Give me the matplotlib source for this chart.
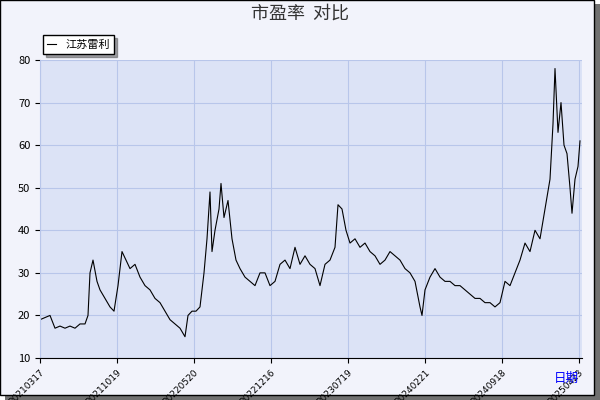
import matplotlib.pyplot as plt
from matplotlib.patches import Rectangle

plt.rcParams['font.family'] = ['Noto Sans CJK SC', 'DejaVu Sans']

# sample position (trading-day-ish offset) and PE value
pos = [40, 45, 50, 55, 60, 65, 70, 75, 80, 85, 88, 90, 93, 97, 100, 105, 110, 114, 118, 122,
       126, 130, 135, 140, 145, 150, 155, 160, 165, 170, 175, 180, 185, 188, 192, 196, 200,
       204, 207, 210, 212, 215, 219, 221, 224, 228, 232, 236, 240, 245, 250, 255, 260, 265,
       270, 275, 280, 285, 290, 295, 300, 305, 310, 315, 320, 325, 330, 335, 338, 342, 346,
       350, 355, 360, 365, 370, 375, 380, 385, 390, 395, 400, 405, 410, 415, 420, 422, 425,
       430, 435, 440, 445, 450, 455, 460, 465, 470, 475, 480, 485, 490, 495, 500, 505, 510,
       515, 520, 525, 530, 535, 540, 545, 550, 553, 555, 558, 561, 564, 567, 570, 572, 575,
       578, 580]
pe = [19, 19.5, 20, 17, 17.5, 17, 17.5, 17, 18, 18, 20, 30, 33, 28, 26, 24, 22, 21, 27, 35,
      33, 31, 32, 29, 27, 26, 24, 23, 21, 19, 18, 17, 15, 20, 21, 21, 22,
      30, 38, 49, 35, 40, 45, 51, 43, 47, 38, 33, 31, 29, 28, 27, 30, 30,
      27, 28, 32, 33, 31, 36, 32, 34, 32, 31, 27, 32, 33, 36, 46, 45, 40,
      37, 38, 36, 37, 35, 34, 32, 33, 35, 34, 33, 31, 30, 28, 22, 20, 26,
      29, 31, 29, 28, 28, 27, 27, 26, 25, 24, 24, 23, 23, 22, 23, 28, 27,
      30, 33, 37, 35, 40, 38, 45, 52, 65, 78, 63, 70, 60, 58, 50, 44, 52,
      55, 61]
tick_pos = [40, 117, 194, 271, 348, 425, 502, 579]
tick_labels = ['20210317', '20211019', '20220520', '20221216', '20230719',
               '20240221', '20240918', '20250423']

fig = plt.figure(figsize=(6, 4), dpi=100, facecolor='white')
fig.patches.append(Rectangle((0.008, 0.0), 0.992, 0.99, transform=fig.transFigure,
                             facecolor='#707070', edgecolor='none', zorder=-2))
fig.patches.append(Rectangle((0.0, 0.012), 0.99, 0.988, transform=fig.transFigure,
                             facecolor='#f2f3fb', edgecolor='black', lw=1, zorder=-1))
ax = fig.add_axes([40 / 600, 42 / 400, 542 / 600, 298 / 400])
ax.set_facecolor('#dce3f6')
ax.plot(pos, pe, color='black', lw=0.8, label='江苏雷利')
ax.set_xlim(40, 582)
ax.set_ylim(10, 80)
ax.set_xticks(tick_pos)
ax.set_xticklabels(tick_labels, rotation=45, ha='right', va='top', rotation_mode='anchor',
                   fontsize=6.5, family='DejaVu Sans')
ax.tick_params(axis='y', labelsize=8)
ax.grid(True, color='#b8c6ea', lw=0.8)
for s in ['top', 'right']:
    ax.spines[s].set_visible(False)
ax.spines['left'].set_color('#b8c6ea')
fig.text(0.5, 0.965, '市盈率  对比', ha='center', va='center', fontsize=13, color='#333333')
fig.text(0.965, 0.055, '日期', ha='right', va='center', fontsize=9, color='blue')
ax.legend(loc='lower left', bbox_to_anchor=(-0.005, 1.0), fontsize=8, frameon=True,
          fancybox=False, shadow=True, edgecolor='black', handlelength=0.8, borderpad=0.4)
fig.savefig('out.png')
